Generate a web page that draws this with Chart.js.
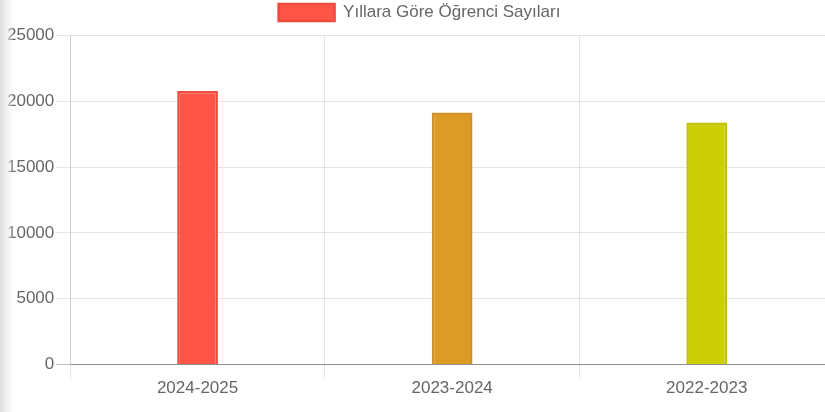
<!DOCTYPE html>
<html>
<head>
<meta charset="utf-8">
<script src="https://cdn.jsdelivr.net/npm/chart.js@4/dist/chart.umd.min.js"></script>
<style>
  html, body { margin: 0; padding: 0; background: #fff; overflow: hidden; width: 825px; height: 412px; }
  #wrap { position: absolute; left: 0; top: 0; width: 834px; height: 412px; }
  #shadow { position: absolute; left: 0; top: 0; width: 14px; height: 412px;
    background: linear-gradient(to right, #dcdcdc 0%, #eeeeee 40%, rgba(255,255,255,0) 100%); pointer-events: none; }
</style>
</head>
<body>
<div id="wrap"><canvas id="c" width="834" height="412"></canvas></div>
<div id="shadow"></div>
<script>
const categories = ["2024-2025", "2023-2024", "2022-2023"];
const studentCounts = [20780, 19150, 18400];
const seriesLabel = "Yıllara Göre Öğrenci Sayıları";
const yTicks = [0, 5000, 10000, 15000, 20000, 25000];

const fillColors = ["#ff5546", "#db9b24", "#cccf05"];
const borderColors = ["#f04b3e", "#d0902a", "#c3c200"];

Chart.defaults.font.family = "'Liberation Sans', Arial, Helvetica, sans-serif";
Chart.defaults.font.size = 17;
Chart.defaults.color = "#666";

const legendSpace = {
  id: 'legendSpace',
  beforeInit(chart) {
    const lg = chart.legend;
    if (!lg) return;
    const orig = lg.fit;
    lg.fit = function () { orig.call(this); this.height += 4.5; };
  }
};

new Chart(document.getElementById('c'), {
  type: 'bar',
  data: {
    labels: categories,
    datasets: [{
      label: seriesLabel,
      data: studentCounts,
      backgroundColor: fillColors,
      borderColor: borderColors,
      borderWidth: 2.5,
      barPercentage: 0.2,
      categoryPercentage: 0.8
    }]
  },
  plugins: [legendSpace],
  options: {
    responsive: false,
    animation: false,
    devicePixelRatio: 1,
    layout: { padding: { left: 5, right: 0, top: 0, bottom: 13 } },
    plugins: {
      legend: {
        labels: { boxWidth: 56, boxHeight: 17, padding: 4, color: '#666' }
      },
      tooltip: { enabled: false }
    },
    scales: {
      x: {
        grid: { color: 'rgba(0,0,0,0.1)', tickLength: 14, offset: true },
        border: { color: 'rgba(0,0,0,0.25)' },
        ticks: { padding: 0, color: '#666' }
      },
      y: {
        min: 0, max: 25000,
        afterBuildTicks(scale) { scale.ticks = yTicks.map(v => ({ value: v })); },
        grid: {
          color: ctx => (ctx.tick && ctx.tick.value === 0) ? 'rgba(0,0,0,0.25)' : 'rgba(0,0,0,0.1)',
          tickLength: 14
        },
        border: { color: 'rgba(0,0,0,0.1)' },
        ticks: { padding: 2, color: '#666', callback: v => String(v) }
      }
    }
  }
});
</script>
</body>
</html>
